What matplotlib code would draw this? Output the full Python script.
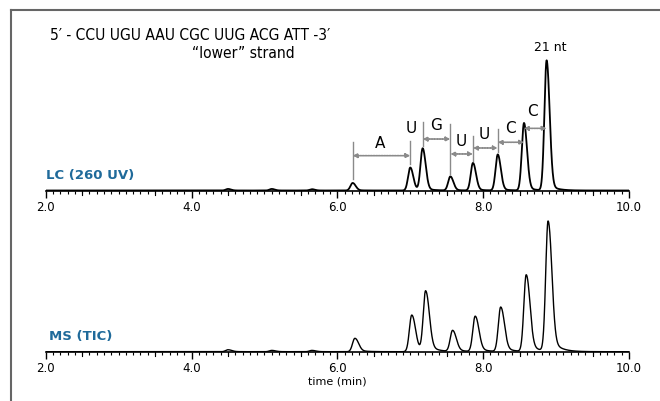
import numpy as np
import matplotlib
matplotlib.use("Agg")
import matplotlib.pyplot as plt
from matplotlib.ticker import MultipleLocator

# peak table (time in min, height in % of the 21 nt peak)
lc_rt = [4.50, 5.10, 5.65, 6.21, 7.00, 7.17, 7.55, 7.86, 8.20, 8.56, 8.87]
lc_h = [1.2, 1.2, 1.0, 5.8, 17.7, 32.3, 10.8, 21.2, 27.7, 51.9, 100.0]
ms_rt = [4.50, 5.10, 5.65, 6.24, 7.02, 7.21, 7.58, 7.89, 8.24, 8.59, 8.89]
ms_h = [1.5, 1.0, 1.0, 10.3, 28.2, 46.2, 16.2, 27.2, 34.2, 59.0, 100.0]

# ladder annotations: start peak, end peak, arrow height, label
ladder_x0 = [6.21, 7.17, 7.55, 7.86, 8.20, 8.56]
ladder_x1 = [7.00, 7.55, 7.86, 8.20, 8.56, 8.87]
ladder_y = [26.8, 39.6, 28.1, 32.7, 37.1, 47.8]
ladder_lab = ["A", "G", "U", "U", "C", "C"]
ladder_lab_x = [6.59, 7.36, 7.70, 8.01, 8.37, 8.67]
ladder_lab_y = [37.3, 50.4, 38.3, 43.5, 48.8, 61.4]
vline_x = [6.21, 7.00, 7.17, 7.55, 7.86, 8.20]
vline_y0 = [8.8, 20.4, 34.2, 12.7, 22.7, 29.6]
vline_y1 = [37.3, 38.3, 52.7, 51.2, 41.9, 47.3]

t = np.linspace(2.0, 10.0, 4000)


def trace(rt, h, sl, sr, tail, tau):
    y = np.zeros_like(t)
    for c, a in zip(rt, h):
        d = t - c
        s = np.where(d < 0, sl, sr)
        y += a * np.exp(-0.5 * (d / s) ** 2)
        y += a * tail * np.where(d > 0, np.exp(-d / tau), 0) * (1 - np.exp(-0.5 * (d / sl) ** 2))
    return y


lc = trace(lc_rt, lc_h, 0.030, 0.040, 0.06, 0.10)
ms = trace(ms_rt, ms_h, 0.032, 0.048, 0.14, 0.11)

fig = plt.figure(figsize=(6.6, 4.02), dpi=100)
blue = "#1f6a9a"
grey = "#8a8a8a"


def setup(ax):
    ax.set_xlim(2.0, 10.0)
    for s in ["top", "right", "left"]:
        ax.spines[s].set_visible(False)
    ax.spines["bottom"].set_linewidth(1.2)
    ax.set_yticks([])
    ax.xaxis.set_major_locator(MultipleLocator(2.0))
    ax.xaxis.set_minor_locator(MultipleLocator(0.1))
    ax.xaxis.set_major_formatter(matplotlib.ticker.FormatStrFormatter("%.1f"))
    ax.tick_params(axis="x", which="major", length=5, width=1, labelsize=8.5, pad=2)
    ax.tick_params(axis="x", which="minor", length=2.5, width=0.8)
    ax.patch.set_alpha(0)


ax1 = fig.add_axes([45.7 / 660, 1 - 191.5 / 402, (629 - 45.7) / 660, 136.5 / 402])
setup(ax1)
ax1.plot(t, lc, color="black", lw=1.3)
ax1.set_ylim(0, 136.5 / 1.3)
for xv in np.arange(2.5, 10.0, 1.0):
    ax1.plot([xv, xv], [0, -3.2], color="black", lw=0.8, clip_on=False)

for x, y0, y1 in zip(vline_x, vline_y0, vline_y1):
    ax1.plot([x, x], [y0, y1], color=grey, lw=1.0)
for x0, x1, y in zip(ladder_x0, ladder_x1, ladder_y):
    ax1.annotate("", xy=(x1, y), xytext=(x0, y),
                 arrowprops=dict(arrowstyle="<|-|>", color=grey, lw=1.2,
                                 linestyle=(0, (1, 0.6)), mutation_scale=6,
                                 shrinkA=0, shrinkB=0))
for x, y, s in zip(ladder_lab_x, ladder_lab_y, ladder_lab):
    ax1.text(x, y, s, ha="center", va="center", fontsize=11)
ax1.text(7.02, 48.8, "U", ha="center", va="center", fontsize=11)
ax1.text(8.92, 111, "21 nt", ha="center", va="center", fontsize=9)
ax1.text(0.0, 0.12, "LC (260 UV)", transform=ax1.transAxes, color=blue,
         fontsize=9.5, fontweight="bold", va="center", ha="left")

ax2 = fig.add_axes([45.7 / 660, 1 - 352.7 / 402, (629 - 45.7) / 660, 137.7 / 402])
setup(ax2)
ax2.plot(t, ms, color="black", lw=1.0)
ax2.set_ylim(0, 137.7 / 1.3)
for xv in np.arange(2.5, 10.0, 1.0):
    ax2.plot([xv, xv], [0, -3.2], color="black", lw=0.8, clip_on=False)
ax2.text(0.005, 0.12, "MS (TIC)", transform=ax2.transAxes, color=blue,
         fontsize=9.5, fontweight="bold", va="center", ha="left")
ax2.set_xlabel("time (min)", fontsize=8, labelpad=1)

fig.text(50 / 660, 1 - 35 / 402, "5\u2032 - CCU UGU AAU CGC UUG ACG ATT -3\u2032",
         fontsize=11.2, fontstretch="condensed", va="center", ha="left")
fig.text(192 / 660, 1 - 53 / 402, "\u201clower\u201d strand", fontsize=11.2,
         fontstretch="condensed", va="center", ha="left")

# outer frame
fig.add_artist(plt.Line2D([11 / 660, 1.0], [1 - 11 / 402, 1 - 11 / 402],
                          color="#666666", lw=1.5))
fig.add_artist(plt.Line2D([11 / 660, 11 / 660], [0, 1 - 11 / 402],
                          color="#666666", lw=1.5))

fig.savefig("out.png", dpi=100)
